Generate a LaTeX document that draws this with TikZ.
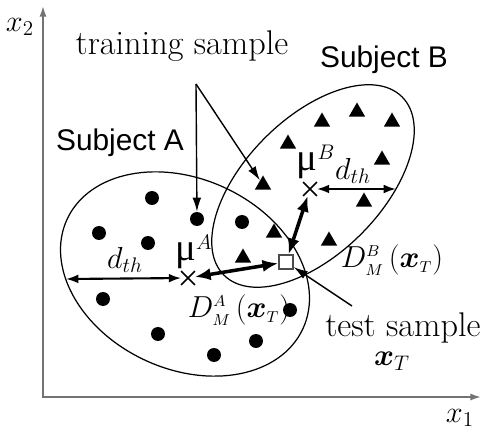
\documentclass[tikz,border=0pt]{standalone}
\usepackage{fontspec}
\usepackage{amsmath}
\usepackage{bm}
\usetikzlibrary{arrows.meta,shapes.geometric,shapes.misc}

\newfontfamily\labelsans{Liberation Sans}
\newfontfamily\greekfont{Liberation Serif}
\newcommand{\meanof}[1]{{\greekfont\fontsize{22}{24}\selectfont μ}$^{#1}$}
\newcommand{\mahal}[1]{$D^{\scriptscriptstyle #1}_{\scriptscriptstyle M}\,(\bm{x}_{\scriptscriptstyle T})$}

\begin{document}
\begin{tikzpicture}[x=0.02cm, y=-0.02cm,
  dot/.style={circle, fill, inner sep=0pt, minimum size=0.28cm},
  tri/.style={regular polygon, regular polygon sides=3, fill, inner sep=0pt, minimum size=0.38cm},
  mean/.style={cross out, draw, line width=1pt, inner sep=0pt, minimum size=0.24cm},
  testbox/.style={rectangle, draw=black!70, fill=white, line width=0.8pt, inner sep=0pt, minimum size=0.28cm},
  big/.style={font=\fontsize{19.5}{22}\selectfont, inner sep=1pt},
  mathlab/.style={font=\fontsize{18}{20}\selectfont, inner sep=1pt},
  subj/.style={font=\labelsans\fontsize{17}{19}\selectfont},
  axis/.style={draw=black!55, line width=1pt, {Latex[length=6pt,width=4pt]}-{Latex[length=6pt,width=4pt]}},
  dist/.style={line width=2pt, {Latex[length=9pt,width=7pt]}-{Latex[length=9pt,width=7pt]}},
  thr/.style={line width=1.2pt, {Latex[length=7pt,width=5pt]}-{Latex[length=7pt,width=5pt]}},
  pointer/.style={line width=0.8pt, -{Latex[length=8pt,width=5pt]}}]
  \useasboundingbox (0,0) rectangle (481,432);

  % axes
  \coordinate (ytop) at (43,6);
  \coordinate (origin) at (43,397);
  \coordinate (xend) at (481,397);
  \draw[axis] (ytop) -- (origin) -- (xend);
  \node[mathlab] (xtwo) at (20,27) {$x_2$};
  \node[mathlab] (xone) at (460,418) {$x_1$};

  % subjects
  \draw[line width=0.7pt, rotate around={-25:(185,274)}] (185,274) ellipse (130 and 95);
  \draw[line width=0.7pt, rotate around={45:(313,186)}] (313,186) ellipse (126 and 68);
  \node[subj] (subjA) at (120,143) {Subject A};
  \node[subj] (subjB) at (384,60) {Subject B};

  % training samples of A
  \node[dot] (a1) at (152,198) {};
  \node[dot] (a2) at (197,219) {};
  \node[dot] (a3) at (99,233) {};
  \node[dot] (a4) at (148,243) {};
  \node[dot] (a5) at (242,222) {};
  \node[dot] (a6) at (103,299) {};
  \node[dot] (a7) at (158,334) {};
  \node[dot] (a8) at (214,355) {};
  \node[dot] (a9) at (290,310) {};
  \node[dot] (a10) at (256,341) {};

  % training samples of B
  \node[tri] (b1) at (357,112) {};
  \node[tri] (b2) at (322,122) {};
  \node[tri] (b3) at (392,122) {};
  \node[tri] (b4) at (288,144) {};
  \node[tri] (b5) at (382,160) {};
  \node[tri] (b6) at (263,185) {};
  \node[tri] (b7) at (364,202) {};
  \node[tri] (b8) at (274,233) {};
  \node[tri] (b9) at (329,241) {};
  \node[tri] (b10) at (243,258) {};

  % means and test sample
  \node[mean] (muA) at (188,278) {};
  \node[mean] (muB) at (310,189) {};
  \node[mathlab] (muAlab) at (194,252) {\meanof{A}};
  \node[mathlab] (muBlab) at (316,162) {\meanof{B}};
  \node[testbox] (test) at (286,262) {};

  % thresholds
  \coordinate (edgeA) at (66,279);
  \coordinate (edgeB) at (396,189);
  \draw[thr] (edgeA) -- (muA);
  \draw[thr] (muB) -- (edgeB);
  \node[mathlab] (dthA) at (125,260) {$d_{th}$};
  \node[mathlab] (dthB) at (353,171) {$d_{th}$};

  % distances
  \draw[dist] (muA) -- (test);
  \draw[dist] (muB) -- (test);
  \node[mathlab] (distA) at (239,310) {\mahal{A}};
  \node[mathlab] (distB) at (392,260) {\mahal{B}};

  % labels
  \node[big] (train) at (182,46) {training sample};
  \coordinate (fork) at (196,84);
  \draw[pointer] (fork) -- (a2);
  \draw[pointer] (fork) -- (b6);
  \node[big] (testlab) at (403,328) {test sample};
  \node[mathlab] (testx) at (392,361) {$\bm{x}_T$};
  \coordinate (testtail) at (352,306);
  \draw[pointer] (testtail) -- (test);
\end{tikzpicture}
\end{document}
